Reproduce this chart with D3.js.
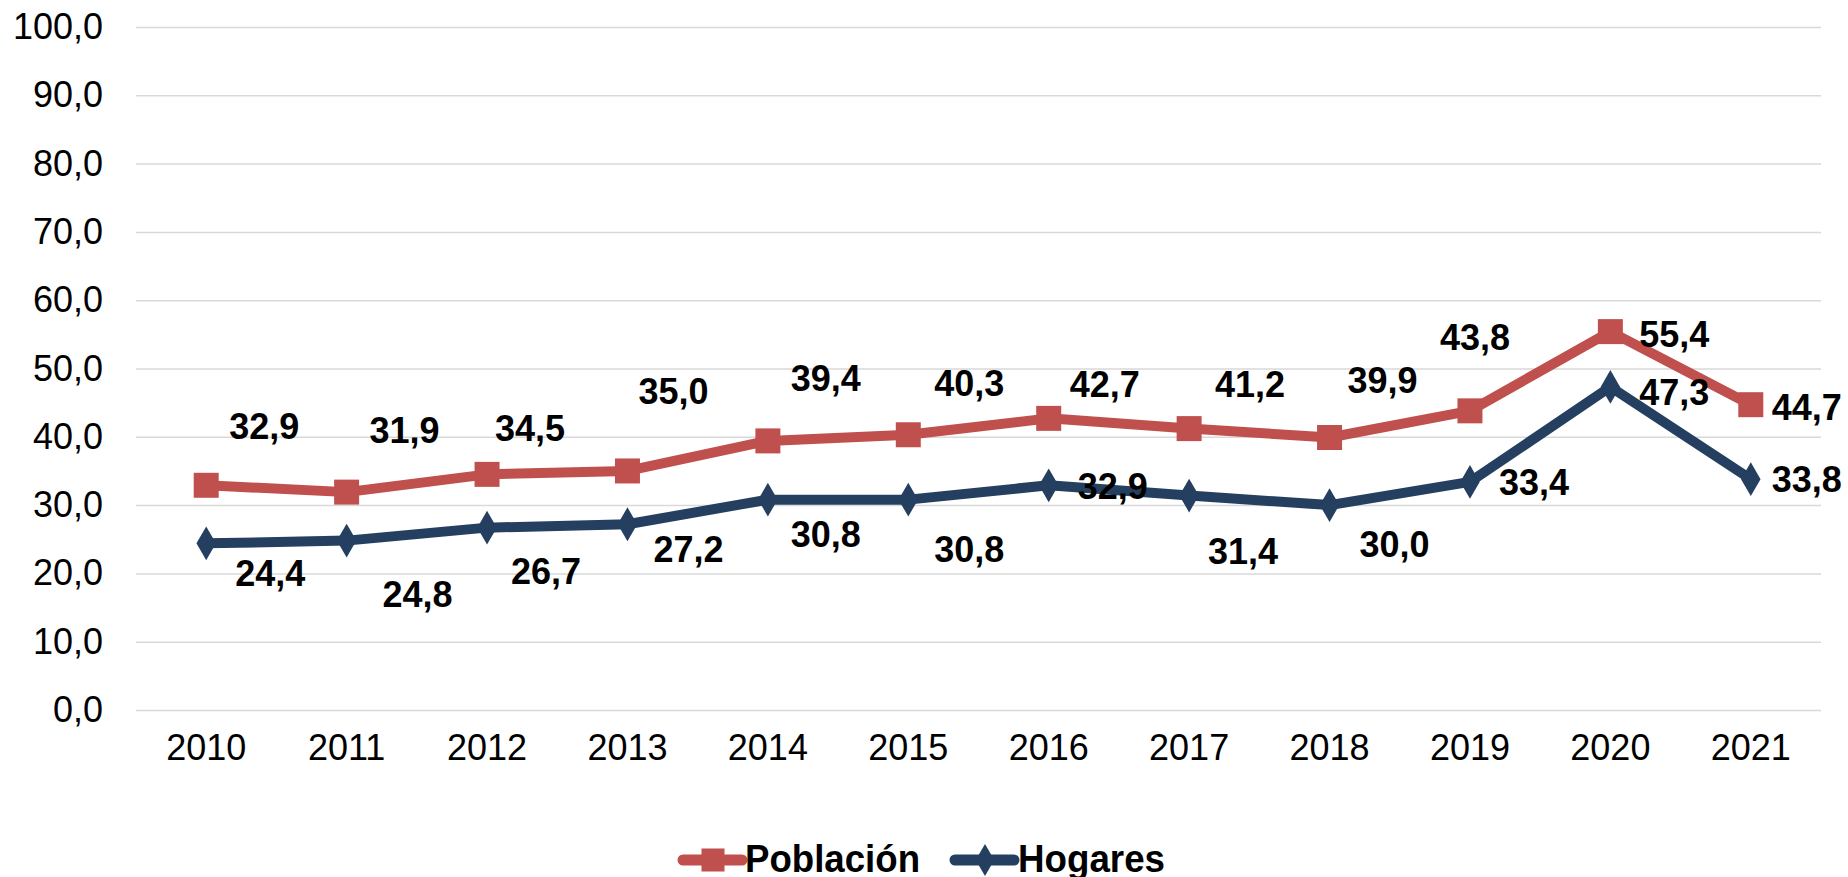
<!DOCTYPE html>
<html>
<head>
<meta charset="utf-8">
<script src="https://cdn.jsdelivr.net/npm/d3@7"></script>
<style>
    body { margin: 0; background: #fff; }
    svg { display: block; font-family: "Liberation Sans", Arial, sans-serif; }
</style>
</head>
<body>
<svg id="chart"></svg>
<script>
"use strict";

// Chart data
const years = ["2010", "2011", "2012", "2013", "2014", "2015", "2016", "2017", "2018", "2019", "2020", "2021"];
const poblacion = [32.9, 31.9, 34.5, 35.0, 39.4, 40.3, 42.7, 41.2, 39.9, 43.8, 55.4, 44.7];
const hogares = [24.4, 24.8, 26.7, 27.2, 30.8, 30.8, 32.9, 31.4, 30.0, 33.4, 47.3, 33.8];
const yTicks = [0, 10, 20, 30, 40, 50, 60, 70, 80, 90, 100];

// label nudges (px from the marker), hand placed like in the original
const popNudge = [[58, -59], [58, -62], [43, -46], [46, -80], [58, -63], [61, -52],
    [56, -34], [61, -45], [53, -57], [5, -74], [64, 2], [56, 2]];
const hogNudge = [[64, 30], [71, 53], [59, 43], [61, 25], [58, 34], [61, 49],
    [64, 1], [54, 56], [65, 39], [64, 0], [64, 5], [56, 0]];

// Dimensions
const width = 1848;
const height = 877;
const margin = { top: 27, right: 27, bottom: 167, left: 136 };

const red = "#c0504d";
const navy = "#243f60";

const svg = d3.select("#chart")
    .attr("width", width)
    .attr("height", height);

const xScale = d3.scaleBand()
    .domain(years)
    .range([margin.left, width - margin.right]);

const yScale = d3.scaleLinear()
    .domain([0, 100])
    .range([height - margin.bottom, margin.top]);

const fmt = v => d3.format(".1f")(v).replace(".", ",");
const cx = d => xScale(d) + xScale.bandwidth() / 2;

// gridlines + y labels
const yAxis = svg.append("g")
    .attr("transform", `translate(${margin.left},0)`)
    .call(d3.axisLeft(yScale).tickValues(yTicks).tickFormat(fmt).tickSize(-(width - margin.left - margin.right)).tickPadding(33));
yAxis.select(".domain").remove();
yAxis.selectAll(".tick line").attr("stroke", "#d9d9d9").attr("stroke-width", 1.5);
yAxis.selectAll(".tick text")
    .attr("font-size", 36)
    .attr("fill", "#000")
    .attr("font-family", "Liberation Sans, Arial, sans-serif");

// x labels
const xAxis = svg.append("g")
    .attr("transform", `translate(0,${height - margin.bottom})`)
    .call(d3.axisBottom(xScale).tickSize(0).tickPadding(24));
xAxis.select(".domain").remove();
xAxis.selectAll(".tick text")
    .attr("font-size", 36)
    .attr("fill", "#000")
    .attr("font-family", "Liberation Sans, Arial, sans-serif");

const line = d3.line()
    .x((d, i) => cx(years[i]))
    .y(d => yScale(d));

const series = [
    { name: "Población", values: poblacion, color: red, shape: d3.symbolSquare, size: 625, nudge: popNudge },
    { name: "Hogares", values: hogares, color: navy, shape: d3.symbolDiamond, size: 330, nudge: hogNudge }
];

series.forEach(s => {
    svg.append("path")
        .datum(s.values)
        .attr("fill", "none")
        .attr("stroke", s.color)
        .attr("stroke-width", 10)
        .attr("stroke-linejoin", "round")
        .attr("d", line);

    svg.append("g").selectAll("path")
        .data(s.values)
        .join("path")
        .attr("transform", (d, i) => `translate(${cx(years[i])},${yScale(d)})`)
        .attr("d", d3.symbol().type(s.shape).size(s.size))
        .attr("fill", s.color);
});

// data labels on top
series.forEach(s => {
    svg.append("g").selectAll("text")
        .data(s.values)
        .join("text")
        .attr("x", (d, i) => cx(years[i]) + s.nudge[i][0])
        .attr("y", (d, i) => yScale(d) + s.nudge[i][1])
        .attr("dy", "0.36em")
        .attr("text-anchor", "middle")
        .attr("font-size", 36)
        .attr("font-weight", "bold")
        .attr("fill", "#000")
        .text(fmt);
});

// legend
const legendY = 860;
const legendItems = [
    { s: series[0], x: 683, tx: 745, tw: 175 },
    { s: series[1], x: 955, tx: 1018, tw: 147 }
];
const legend = svg.append("g");
legendItems.forEach(item => {
    legend.append("line")
        .attr("x1", item.x).attr("x2", item.x + 59)
        .attr("y1", legendY).attr("y2", legendY)
        .attr("stroke", item.s.color)
        .attr("stroke-width", 11)
        .attr("stroke-linecap", "round");
    legend.append("path")
        .attr("transform", `translate(${item.x + 30},${legendY})`)
        .attr("d", d3.symbol().type(item.s.shape).size(item.s.shape === d3.symbolSquare ? 530 : 300))
        .attr("fill", item.s.color);
    legend.append("text")
        .attr("x", item.tx)
        .attr("y", 872)
        .attr("font-size", 38)
        .attr("font-weight", "bold")
        .attr("textLength", item.tw)
        .attr("lengthAdjust", "spacingAndGlyphs")
        .attr("fill", "#000")
        .text(item.s.name);
});
</script>
</body>
</html>
